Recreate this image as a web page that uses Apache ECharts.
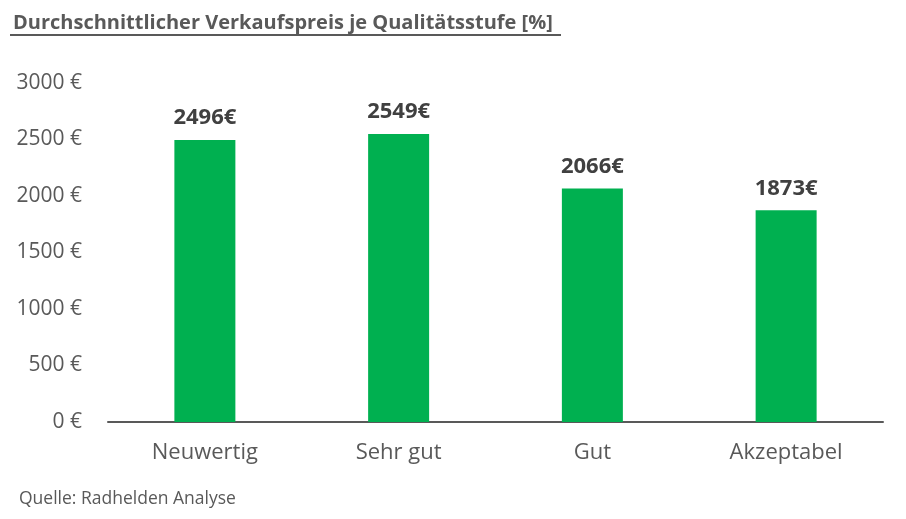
<!DOCTYPE html>
<html><head><meta charset="utf-8">
<script src="https://cdn.jsdelivr.net/npm/echarts@6/dist/echarts.min.js"></script>
<style>html,body{margin:0;padding:0;background:#fff}#c{width:906px;height:519px}</style>
</head><body><div id="c"></div>
<script>
const categories = ["Neuwertig", "Sehr gut", "Gut", "Akzeptabel"];
const prices = [2496, 2549, 2066, 1873];
const titleText = "Durchschnittlicher Verkaufspreis je Qualitätsstufe [%]";
const sourceText = "Quelle: Radhelden Analyse";
const FONT = "'Open Sans',sans-serif";
const chart = echarts.init(document.getElementById('c'));
chart.setOption({
  animation: false,
  title: [{
    text: titleText, left: 8, top: 8,
    textStyle: {fontFamily: FONT, fontSize: 20, fontWeight: 'bold', color: '#595959'}
  }, {
    text: sourceText, left: 14, top: 485,
    textStyle: {fontFamily: FONT, fontSize: 17.5, fontWeight: 'normal', color: '#595959'}
  }],
  graphic: [{type: 'rect', shape: {x: 10, y: 34, width: 551, height: 2}, style: {fill: '#595959'}}],
  grid: {left: 108, right: 23, top: 83, bottom: 97},
  xAxis: {
    type: 'category', data: categories,
    axisLine: {lineStyle: {color: '#595959', width: 2}},
    axisTick: {show: false},
    axisLabel: {fontFamily: FONT, fontSize: 22, color: '#595959', margin: 20}
  },
  yAxis: {
    type: 'value', min: 0, max: 3000, interval: 500,
    splitLine: {show: false}, axisLine: {show: false}, axisTick: {show: false},
    axisLabel: {fontFamily: FONT, fontSize: 21, color: '#595959', margin: 26, formatter: v => v + ' €'}
  },
  series: [{
    type: 'bar', data: prices, barWidth: 61,
    itemStyle: {color: '#00B050'},
    label: {show: true, position: 'top', distance: 11, fontFamily: FONT, fontSize: 22, fontWeight: 'bold', color: '#404040', formatter: p => p.value + '€'}
  }]
});
</script></body></html>
